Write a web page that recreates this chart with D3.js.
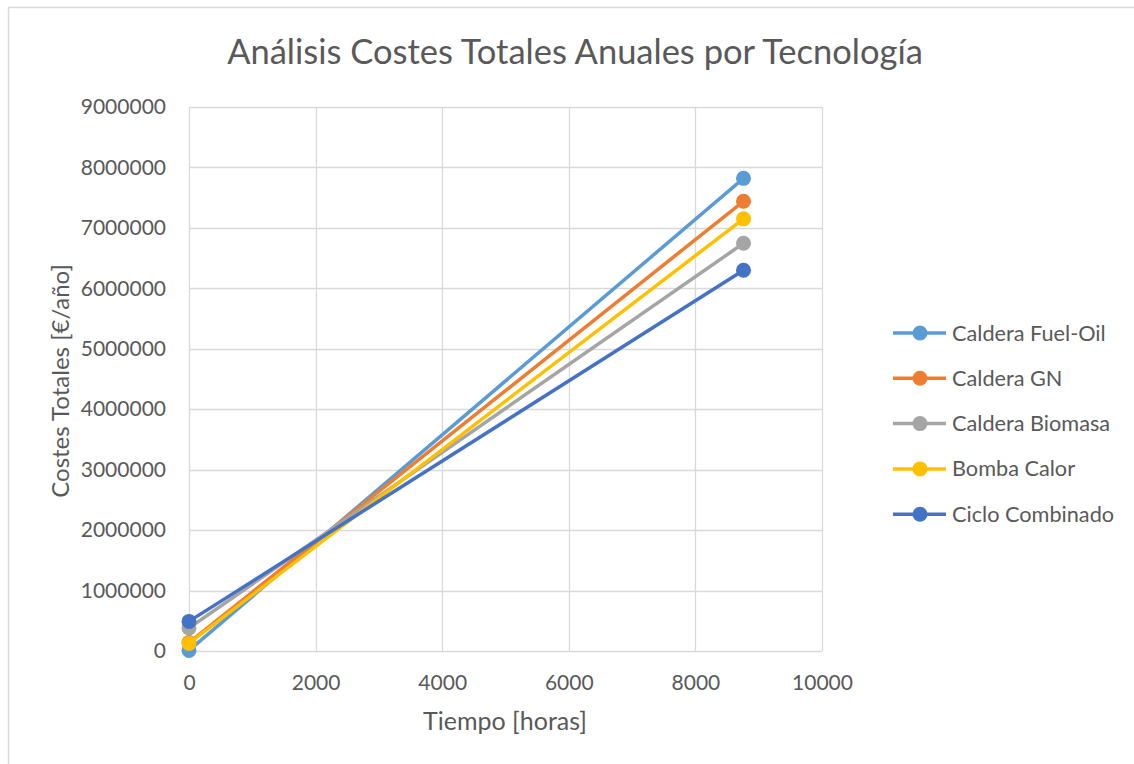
<!DOCTYPE html>
<html><head><meta charset="utf-8">
<script src="https://cdn.jsdelivr.net/npm/d3@7"></script>
<style>body{margin:0;background:#fff}svg{display:block}text{font-family:Lato,"Open Sans",sans-serif;fill:#595959}</style>
</head><body><svg id="c" width="1134" height="764"></svg>
<script>
const hours = [0, 8760];
const seriesNames = ["Caldera Fuel-Oil","Caldera GN","Caldera Biomasa","Bomba Calor","Ciclo Combinado"];
const fuelOil = [10000, 7820000];
const gn = [140000, 7440000];
const biomasa = [380000, 6745000];
const bomba = [125000, 7150000];
const ciclo = [490000, 6300000];
const colors = ["#5B9BD5","#ED7D31","#A5A5A5","#FFC000","#4472C4"];
const xTicks = [0,2000,4000,6000,8000,10000];
const yTicks = [0,1000000,2000000,3000000,4000000,5000000,6000000,7000000,8000000,9000000];
const values = [fuelOil, gn, biomasa, bomba, ciclo];

const svg = d3.select("#c");
svg.append("rect").attr("x",8.5).attr("y",7.5).attr("width",1200).attr("height",800)
  .attr("fill","none").attr("stroke","#d9d9d9").attr("stroke-width",1.5);

const x = d3.scaleLinear().domain([0,10000]).range([189,822]);
const y = d3.scaleLinear().domain([0,9000000]).range([651,107]);

const grid = svg.append("g");
grid.selectAll(".h").data(yTicks).enter().append("line")
  .attr("x1",189).attr("x2",822).attr("y1",d=>Math.round(y(d))+0.5).attr("y2",d=>Math.round(y(d))+0.5)
  .attr("stroke","#d9d9d9").attr("stroke-width",1.3);
grid.selectAll(".v").data(xTicks).enter().append("line")
  .attr("y1",107).attr("y2",651).attr("x1",d=>Math.round(x(d))+0.5).attr("x2",d=>Math.round(x(d))+0.5)
  .attr("stroke","#d9d9d9").attr("stroke-width",1.3);

const yAxis = d3.axisLeft(y).tickValues(yTicks).tickFormat(d3.format("d")).tickSize(0).tickPadding(23);
svg.append("g").attr("transform","translate(189,0)").call(yAxis)
  .call(g=>g.select(".domain").remove())
  .selectAll("text").style("font-size","21px").attr("fill","#595959").attr("font-family","Lato");
const xAxis = d3.axisBottom(x).tickValues(xTicks).tickFormat(d3.format("d")).tickSize(0).tickPadding(24);
svg.append("g").attr("transform","translate(0,651)").call(xAxis)
  .call(g=>g.select(".domain").remove())
  .selectAll("text").style("font-size","21px").attr("fill","#595959").attr("font-family","Lato");

svg.append("text").attr("x",575).attr("y",64).attr("text-anchor","middle")
  .style("font-size","34.5px").text("Análisis Costes Totales Anuales por Tecnología");
svg.append("text").attr("x",505).attr("y",730).attr("text-anchor","middle")
  .style("font-size","25px").text("Tiempo [horas]");
svg.append("text").attr("transform","translate(69,381) rotate(-90)").attr("text-anchor","middle")
  .style("font-size","24px").text("Costes Totales [€/año]");

const line = d3.line().x((d,i)=>x(hours[i])).y(d=>y(d));
values.forEach((vals,k)=>{
  const g = svg.append("g");
  g.append("path").attr("d",line(vals)).attr("fill","none").attr("stroke",colors[k])
    .attr("stroke-width",3.5).attr("stroke-linecap","round");
  g.selectAll("circle").data(vals).enter().append("circle")
    .attr("cx",(d,i)=>x(hours[i])).attr("cy",d=>y(d)).attr("r",7.5).attr("fill",colors[k]);
});

const leg = svg.append("g");
seriesNames.forEach((n,k)=>{
  const ly = 333 + k*45.3;
  leg.append("line").attr("x1",893).attr("x2",946).attr("y1",ly).attr("y2",ly)
    .attr("stroke",colors[k]).attr("stroke-width",3.5);
  leg.append("circle").attr("cx",920).attr("cy",ly).attr("r",7.5).attr("fill",colors[k]);
  leg.append("text").attr("x",952).attr("y",ly+7.5).style("font-size","21.7px").text(n);
});
</script></body></html>
